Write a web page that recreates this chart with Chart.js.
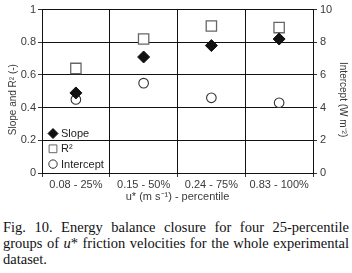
<!DOCTYPE html>
<html>
<head>
<meta charset="utf-8">
<script src="https://cdn.jsdelivr.net/npm/chart.js@4"></script>
<style>
  body { margin: 0; background: #fff; }
  #wrap { position: relative; width: 352px; height: 273px; }
  #box { position: absolute; left: 0; top: 0; width: 352px; height: 206px; }
  #caption {
    position: absolute; left: 3px; top: 219px; width: 346px;
    font-family: 'Liberation Serif', 'Times New Roman', serif;
    font-size: 14.5px; line-height: 16px; color: #111;
    text-align: justify;
  }
</style>
</head>
<body>
<div id="wrap">
  <div id="box"><canvas id="chart1"></canvas></div>
  <div id="caption">Fig. 10. Energy balance closure for four 25-percentile groups of <i>u</i>* friction velocities for the whole experimental dataset.</div>
</div>
<script>
const groups = ['0.08 - 25%', '0.15 - 50%', '0.24 - 75%', '0.83 - 100%'];
const slope = [0.49, 0.71, 0.78, 0.82];
const r2 = [0.64, 0.82, 0.90, 0.89];
const intercept = [4.5, 5.5, 4.6, 4.3];

// legend drawn inside the plot, lower left
const innerLegend = {
    id: 'innerLegend',
    afterDraw(chart) {
        const ctx = chart.ctx;
        const area = chart.chartArea;
        const sizes = [5, 5.5, 4.2];
        chart.data.datasets.forEach((ds, i) => {
            const y = area.bottom - 39.5 + i * 15.3;
            const x = area.left + 11;
            ctx.save();
            ctx.fillStyle = ds.backgroundColor;
            ctx.strokeStyle = ds.borderColor;
            ctx.lineWidth = 1;
            Chart.helpers.drawPoint(ctx, { pointStyle: ds.pointStyle, radius: sizes[i], borderWidth: 1, rotation: 0 }, x, y);
            ctx.fillStyle = '#222';
            ctx.font = '11px "Liberation Sans", Arial, sans-serif';
            ctx.textBaseline = 'middle';
            ctx.fillText(ds.label, x + 8, y + 0.5);
            ctx.restore();
        });
    }
};

Chart.defaults.font.family = '"Liberation Sans", Arial, sans-serif';
Chart.defaults.font.size = 11;
Chart.defaults.color = '#3a3a3a';

const ctx1 = document.getElementById('chart1').getContext('2d');
new Chart(ctx1, {
    type: 'line',
    data: {
        labels: groups,
        datasets: [{
            label: 'Slope',
            data: slope,
            yAxisID: 'y',
            showLine: false,
            pointStyle: 'rectRot',
            pointRadius: 6,
            pointHoverRadius: 6,
            backgroundColor: '#111',
            borderColor: '#111',
            borderWidth: 1
        }, {
            label: 'R²',
            data: r2,
            yAxisID: 'y',
            showLine: false,
            pointStyle: 'rect',
            pointRadius: 7.3,
            pointHoverRadius: 7.3,
            backgroundColor: '#fff',
            borderColor: '#666',
            borderWidth: 1.3
        }, {
            label: 'Intercept',
            data: intercept,
            yAxisID: 'y1',
            showLine: false,
            pointStyle: 'circle',
            pointRadius: 4.8,
            pointHoverRadius: 4.8,
            backgroundColor: '#fff',
            borderColor: '#333',
            borderWidth: 1.1
        }]
    },
    options: {
        responsive: true,
        maintainAspectRatio: false,
        animation: false,
        layout: { padding: { top: 9, left: 0, right: 0, bottom: 0 } },
        plugins: {
            legend: { display: false },
            tooltip: { enabled: false }
        },
        scales: {
            x: {
                offset: true,
                grid: { offset: true, color: '#111', tickLength: 4, tickColor: '#333' },
                border: { color: '#111' },
                ticks: { padding: 1, maxRotation: 0 },
                title: { display: true, text: 'u* (m s⁻¹) - percentile', padding: { top: 0, bottom: 2 } },
                afterFit(scale) { scale.height = 33; }
            },
            y: {
                position: 'left',
                min: 0, max: 1,
                ticks: { stepSize: 0.2, padding: 2, callback: v => String(+v.toFixed(1)) },
                grid: { color: '#111', tickLength: 4, tickColor: '#333' },
                border: { color: '#111' },
                // trailing spaces nudge the rotated title down a little, as in the original
                title: { display: true, text: 'Slope and R² (-)      ', font: { size: 10 }, padding: { top: 7, bottom: 0 } },
                afterFit(scale) { scale.width = 42; }
            },
            y1: {
                position: 'right',
                min: 0, max: 10,
                ticks: { stepSize: 2, padding: 3 },
                grid: { drawOnChartArea: false, tickLength: 4, tickColor: '#333' },
                border: { color: '#111' },
                title: { display: true, text: '      Intercept (W m⁻²)', font: { size: 10 }, padding: { top: 3, bottom: 0 } },
                afterFit(scale) { scale.width = 39; }
            }
        }
    },
    plugins: [innerLegend]
});
</script>
</body>
</html>
